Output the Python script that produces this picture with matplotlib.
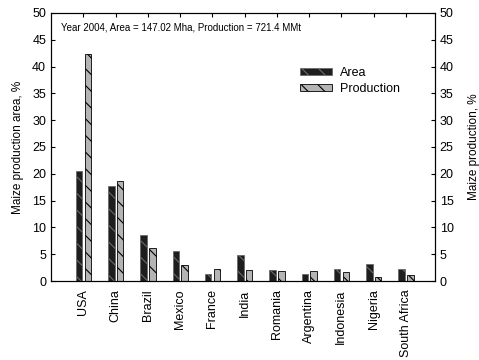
import matplotlib.pyplot as plt
import numpy as np

plt.rcParams["font.family"] = ["Liberation Sans", "DejaVu Sans"]
plt.rcParams["hatch.linewidth"] = 0.8

countries = ["USA", "China", "Brazil", "Mexico", "France", "India",
             "Romania", "Argentina", "Indonesia", "Nigeria", "South Africa"]
area_pct = [20.5, 17.7, 8.6, 5.6, 1.3, 4.8, 2.0, 1.4, 2.3, 3.2, 2.2]
prod_pct = [42.4, 18.7, 6.1, 2.9, 2.2, 2.0, 1.9, 1.9, 1.6, 0.8, 1.2]
note = "Year 2004, Area = 147.02 Mha, Production = 721.4 MMt"

x = np.arange(1, len(countries) + 1)
w = 0.2

fig = plt.figure(figsize=(4.79, 3.6), dpi=100)
ax = fig.add_axes([0.1065, 0.2194, 0.8015, 0.7446])

ax.bar(x - 0.13, area_pct, w, color="#1e1e1e", edgecolor="#6a6a6a",
       hatch="\\\\", linewidth=0.6, label="Area")
ax.bar(x + 0.14, prod_pct, w, color="#b4b4b4", edgecolor="black",
       hatch="\\\\", linewidth=0.6, label="Production")

ax.set_xlim(0, 11.9)
ax.set_ylim(0, 50)
ax.set_yticks(np.arange(0, 51, 5))
ax.set_xticks(x)
ax.set_xticklabels(countries, rotation=90, fontsize=9)
ax.tick_params(axis="y", direction="in", length=3, labelsize=9)
ax.tick_params(axis="x", direction="in", length=3, bottom=False, top=True,
               pad=6)
ax.set_ylabel("Maize production area, %", fontsize=8.5, labelpad=6)

ax2 = ax.twinx()
ax2.set_ylim(0, 50)
ax2.set_yticks(np.arange(0, 51, 5))
ax2.tick_params(axis="y", direction="in", length=3, labelsize=9)
ax2.set_ylabel("Maize production, %", fontsize=8.5, labelpad=10)

ax.text(0.027, 0.945, note, transform=ax.transAxes, fontsize=7, va="center")

ax.legend(loc="upper left", bbox_to_anchor=(0.625, 0.83), frameon=False,
          fontsize=9, handlelength=2.6, handleheight=0.5, labelspacing=0.3,
          borderpad=0.2, handletextpad=0.6)

fig.savefig("out.png", dpi=100)
